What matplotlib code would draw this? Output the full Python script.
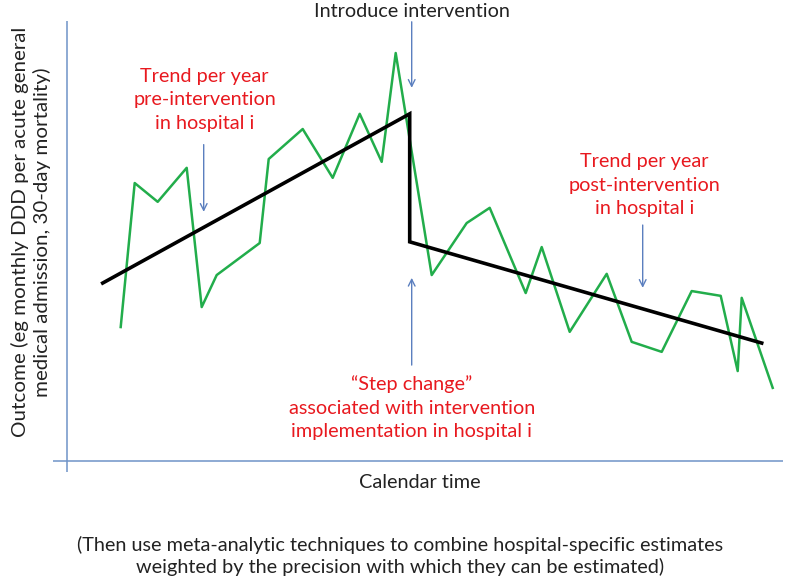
import matplotlib.pyplot as plt

plt.rcParams["font.family"] = ["Lato", "DejaVu Sans"]

# observed outcome (green series): time in months, outcome in arbitrary units
time = [5.4, 6.8, 9.1, 12.0, 13.5, 15.0, 19.3, 20.2, 23.6, 26.6, 29.3, 31.5, 32.9,
        36.5, 40.0, 42.3, 45.9, 47.5, 50.3, 54.0, 56.5, 59.5, 62.5, 65.4, 67.1, 67.5, 70.6]
outcome = [33.4, 69.4, 64.7, 73.2, 38.4, 46.4, 54.4, 75.4, 82.9, 70.7, 86.7, 74.7, 101.9,
           46.4, 59.4, 63.2, 41.9, 53.4, 32.2, 46.7, 29.7, 27.2, 42.4, 41.2, 22.4, 40.7, 18.2]

# fitted segmented regression (black line)
fit_time = [3.6, 34.3, 34.3, 69.5]
fit_outcome = [44.4, 86.7, 54.7, 29.4]

GREEN = "#22ad4b"
RED = "#e8191f"
BLUE = "#6f93c8"

fig = plt.figure(figsize=(7.87, 5.78), dpi=100)
ax = fig.add_axes([53 / 787, 1 - 472 / 578, 730 / 787, 451 / 578])
ax.set_xlim(-1.37, 71.63)
ax.set_ylim(-2.83, 109.9)
ax.axis("off")

# axis lines
ax.axvline(0, color=BLUE, lw=1.1)
ax.axhline(0, color=BLUE, lw=1.1)

ax.plot(time, outcome, color=GREEN, lw=1.8)
ax.plot(fit_time, fit_outcome, color="black", lw=2.6, solid_joinstyle="miter")

arrow = dict(arrowstyle="->", color="#5b7fbf", lw=1.0, shrinkA=0, shrinkB=0,
             mutation_scale=12)
ax.annotate("", xy=(34.5, 93.2), xytext=(34.5, 109.7), arrowprops=arrow)
ax.annotate("", xy=(13.7, 62.2), xytext=(13.7, 79.0), arrowprops=arrow)
ax.annotate("", xy=(57.6, 43.2), xytext=(57.6, 58.9), arrowprops=arrow)
ax.annotate("", xy=(34.5, 45.7), xytext=(34.5, 23.9), arrowprops=arrow)

fs = 14.3
ax.text(34.5, 112.2, "Introduce intervention", ha="center", va="center",
        fontsize=fs, color="#222222", clip_on=False)
ax.text(13.8, 90.2, "Trend per year\npre-intervention\nin hospital i",
        ha="center", va="center", fontsize=fs, color=RED, linespacing=1.45)
ax.text(57.8, 68.9, "Trend per year\npost-intervention\nin hospital i",
        ha="center", va="center", fontsize=fs, color=RED, linespacing=1.45)
ax.text(34.5, 13.2, "\u201cStep change\u201d\nassociated with intervention\nimplementation in hospital i",
        ha="center", va="center", fontsize=fs, color=RED, linespacing=1.45)

fig.text(31 / 787, 1 - 232 / 578,
         "Outcome (eg monthly DDD per acute general\nmedical admission, 30-day mortality)",
         rotation=90, ha="center", va="center", fontsize=fs * 1.03, color="#222222",
         linespacing=1.2)
fig.text(420 / 787, 1 - 482 / 578, "Calendar time", ha="center", va="center",
         fontsize=fs, color="#222222")
fig.text(400 / 787, 1 - 556 / 578,
         "(Then use meta-analytic techniques to combine hospital-specific estimates\n"
         "weighted by the precision with which they can be estimated)",
         ha="center", va="center", fontsize=fs, color="#222222", linespacing=1.25)

fig.savefig("out.png", dpi=100)
